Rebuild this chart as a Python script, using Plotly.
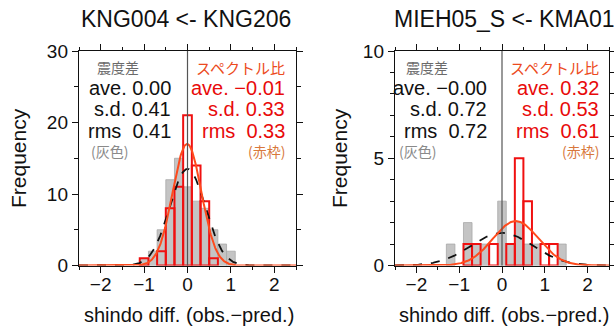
import numpy as np
import plotly.graph_objects as go

# ---------------- data ----------------
titles = ["KNG004 <- KNG206", "MIEH05_S <- KMA01"]

left_bins = [-1.0, -0.8, -0.6, -0.4, -0.2, 0.0, 0.2, 0.4, 0.6, 0.8, 1.0]
left_gray = [1, 2, 5, 12, 15, 11, 9, 8, 5, 3, 2]
left_red = [1, 0, 2, 8, 11, 21, 14, 9, 1, 0, 0]

right_bins = [-1.2, -1.0, -0.8, -0.6, -0.4, -0.2, 0.0, 0.2, 0.4, 0.6, 0.8, 1.0, 1.2, 1.4]
right_gray = [1, 0, 2, 1, 1, 0, 3, 1, 2, 1, 1, 0, 0, 1]
right_red = [0, 0, 1, 1, 0, 1, 0, 1, 5, 3, 0, 1, 1, 0]

# fit stats: ave, sd, peak of fitted normal curve
left_gray_fit = (0.00, 0.41, 13.5)
left_red_fit = (-0.01, 0.33, 17.0)
right_gray_fit = (0.00, 0.72, 1.52)
right_red_fit = (0.32, 0.53, 2.07)

left_gray_text = ["ave. 0.00", "s.d. 0.41", "rms  0.41"]
left_red_text = ["ave. \u22120.01", "s.d. 0.33", "rms  0.33"]
right_gray_text = ["ave. \u22120.00", "s.d. 0.72", "rms  0.72"]
right_red_text = ["ave. 0.32", "s.d. 0.53", "rms  0.61"]

y_max = [30, 10]
y_dtick = [10, 5]
y_minor = [5, 1]
bin_width = 0.2

# ---------------- figure ----------------
FONT = "Liberation Sans, Arial, Noto Sans CJK JP"
JP = "Noto Sans CJK JP, Liberation Sans"
RED = "#F01010"
CURVE = "#FF4A1C"
GRAYFILL = "#C4C4C4"

fig = go.Figure()

xdoms = [[79 / 614, 296 / 614], [395 / 614, 609 / 614]]
ydom = [(327 - 265.5) / 327, (327 - 51) / 327]

panels = [
    (left_bins, left_gray, left_red, left_gray_fit, left_red_fit, left_gray_text, left_red_text),
    (right_bins, right_gray, right_red, right_gray_fit, right_red_fit, right_gray_text, right_red_text),
]

xs = np.linspace(-2.5, 2.5, 401)

for i, (bins, gray, red, gfit, rfit, gtxt, rtxt) in enumerate(panels):
    xa = "x" if i == 0 else "x2"
    ya = "y" if i == 0 else "y2"
    gx = [b for b, v in zip(bins, gray) if v > 0]
    gy = [v for v in gray if v > 0]
    rx = [b for b, v in zip(bins, red) if v > 0]
    ry = [v for v in red if v > 0]
    fig.add_trace(go.Bar(x=gx, y=gy, width=bin_width, xaxis=xa, yaxis=ya,
                         marker=dict(color=GRAYFILL, line=dict(color="#A8A8A8", width=0.8)),
                         showlegend=False))
    fig.add_trace(go.Bar(x=rx, y=ry, width=bin_width, xaxis=xa, yaxis=ya,
                         marker=dict(color="rgba(0,0,0,0)", line=dict(color=RED, width=2)),
                         showlegend=False))
    m, s, p = gfit
    fig.add_trace(go.Scatter(x=xs, y=p * np.exp(-(xs - m) ** 2 / (2 * s * s)), mode="lines",
                             xaxis=xa, yaxis=ya, line=dict(color="#111", width=1.8, dash="dash"),
                             showlegend=False))
    m, s, p = rfit
    fig.add_trace(go.Scatter(x=xs, y=p * np.exp(-(xs - m) ** 2 / (2 * s * s)), mode="lines",
                             xaxis=xa, yaxis=ya, line=dict(color=CURVE, width=2),
                             showlegend=False))

axis_common = dict(showline=True, linecolor="#111", linewidth=1.2, mirror="allticks",
                   ticks="outside", ticklen=6, tickcolor="#111", showgrid=False, zeroline=False,
                   automargin=False,
                   tickfont=dict(family=FONT, size=19, color="#111"))

for i in range(2):
    sx = "" if i == 0 else "2"
    fig.update_layout(**{
        "xaxis" + sx: dict(axis_common, domain=xdoms[i], range=[-2.5, 2.5], dtick=1, tick0=0,
                          minor=dict(dtick=0.5, tick0=0, ticklen=3, ticks="outside", tickcolor="#111"),
                          ticklabelstandoff=-5, anchor="y" + sx),
        "yaxis" + sx: dict(axis_common, domain=ydom, range=[0, y_max[i]], dtick=y_dtick[i],
                          minor=dict(dtick=y_minor[i], ticklen=4, ticks="outside", tickcolor="#111"),
                          anchor="x" + sx),
    })

shapes = []
annotations = []

title_cx = [186, None]
freq_x = [19, 340]
xlabel_cx = [189, 504]
xlabel_size = [20, 20]
gray_right = [-0.33, -0.31]
red_right = [2.3, 2.32]
kanji_left = [-2.12, -2.3]

def py(yp):
    return (327 - yp) / 327

for i in range(2):
    sx = "" if i == 0 else "2"
    xa = "x" + sx
    shapes.append(dict(type="line", xref=xa, yref="y" + sx + " domain", x0=0, x1=0, y0=0, y1=1,
                       line=dict(color="#555", width=1.2), layer="above"))
    if i == 0:
        annotations.append(dict(text=titles[0], xref="paper", yref="paper", x=title_cx[0] / 614,
                                y=py(19), xanchor="center", yanchor="middle", showarrow=False,
                                font=dict(family=FONT, size=23, color="#111")))
    else:
        annotations.append(dict(text=titles[1], xref="paper", yref="paper", x=392 / 614,
                                y=py(19), xanchor="left", yanchor="middle", showarrow=False,
                                font=dict(family=FONT, size=23, color="#111")))
    annotations.append(dict(text="Frequency", xref="paper", yref="paper", x=freq_x[i] / 614,
                            y=py(158), textangle=-90, xanchor="center", yanchor="middle",
                            showarrow=False, font=dict(family=FONT, size=21, color="#111")))
    annotations.append(dict(text="shindo diff. (obs.\u2212pred.)", xref="paper", yref="paper",
                            x=xlabel_cx[i] / 614, y=py(315), xanchor="center", yanchor="middle",
                            showarrow=False, font=dict(family=FONT, size=xlabel_size[i], color="#111")))
    gtxt = panels[i][5]
    rtxt = panels[i][6]
    ydn = "y" + sx + " domain"
    line_y = [67, 88, 109.5, 130.5, 151]

    def fy(yp):
        return (265.5 - yp) / (265.5 - 51)

    annotations.append(dict(text="震度差", xref=xa, yref=ydn, x=kanji_left[i], y=fy(line_y[0]),
                            xanchor="left", yanchor="middle", showarrow=False,
                            font=dict(family=JP, size=14, color="#6A6A6A")))
    annotations.append(dict(text="スペクトル比", xref=xa, yref=ydn, x=red_right[i], y=fy(line_y[0]),
                            xanchor="right", yanchor="middle", showarrow=False,
                            font=dict(family=JP, size=15, color="#EC4A20")))
    for k in range(3):
        annotations.append(dict(text=gtxt[k].replace("  ", "&nbsp;&nbsp;"), xref=xa, yref=ydn,
                                x=gray_right[i], y=fy(line_y[k + 1]),
                                xanchor="right", yanchor="middle", showarrow=False,
                                font=dict(family=FONT, size=20, color="#111")))
        annotations.append(dict(text=rtxt[k].replace("  ", "&nbsp;&nbsp;"), xref=xa, yref=ydn,
                                x=red_right[i], y=fy(line_y[k + 1]),
                                xanchor="right", yanchor="middle", showarrow=False,
                                font=dict(family=FONT, size=20, color="#E80A0A")))
    annotations.append(dict(text="(灰色)", xref=xa, yref=ydn, x=kanji_left[i] - 0.15, y=fy(line_y[4]),
                            xanchor="left", yanchor="middle", showarrow=False,
                            font=dict(family=JP, size=14, color="#8A8A8A")))
    annotations.append(dict(text="(赤枠)", xref=xa, yref=ydn, x=red_right[i], y=fy(line_y[4]),
                            xanchor="right", yanchor="middle", showarrow=False,
                            font=dict(family=JP, size=14, color="#D8783C")))

fig.update_layout(width=614, height=327, margin=dict(l=0, r=0, t=0, b=0),
                  paper_bgcolor="white", plot_bgcolor="white", barmode="overlay",
                  bargap=0, shapes=shapes, annotations=annotations,
                  font=dict(family=FONT, color="#111"))

fig.write_html("out.html", config={"displayModeBar": False, "staticPlot": True},
               post_script="document.body.style.margin='0';document.body.style.overflow='hidden';")
